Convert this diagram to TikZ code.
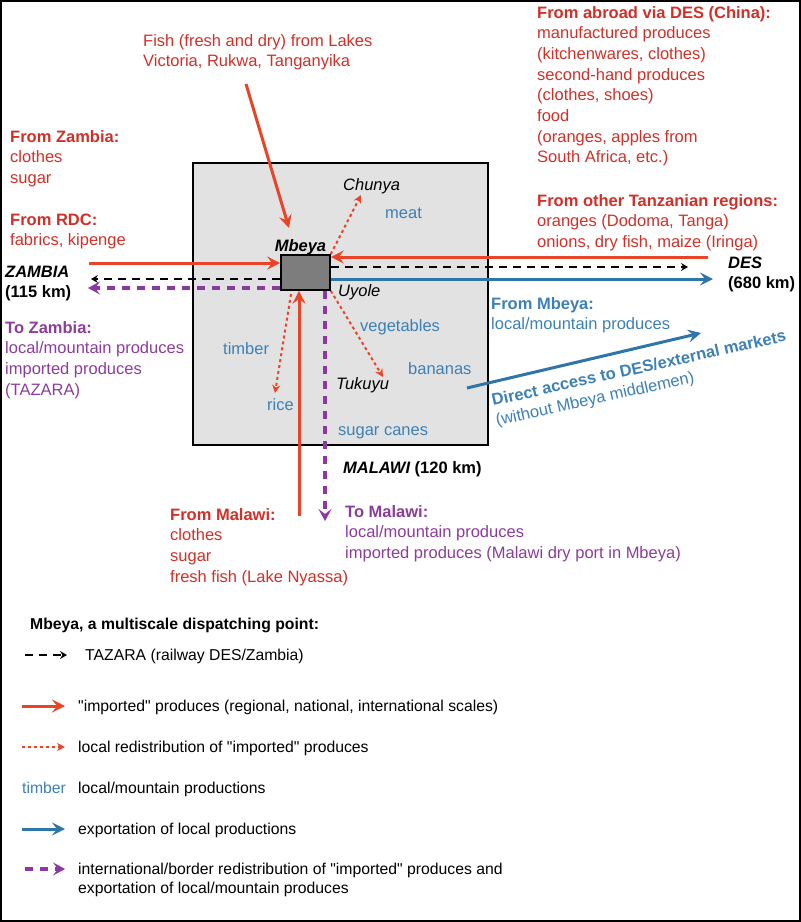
\documentclass[tikz,border=0pt]{standalone}
\usepackage{fontspec}
\setmainfont{Liberation Sans}[Ligatures=TeXOff]
\usetikzlibrary{arrows.meta}
\definecolor{impred}{RGB}{233,68,40}
\definecolor{redtxt}{RGB}{208,48,40}
\definecolor{expblue}{RGB}{46,117,170}
\definecolor{bluetxt}{RGB}{60,128,182}
\definecolor{brdpurple}{RGB}{140,55,165}
\definecolor{purtxt}{RGB}{140,60,155}
\definecolor{zonegray}{RGB}{226,226,226}
\definecolor{hubgray}{RGB}{125,125,125}
\newcommand{\mapfont}{\fontsize{16.5}{20.7}\selectfont}
\newcommand{\keyfont}{\fontsize{15.75}{19.5}\selectfont}

\begin{document}
\begin{tikzpicture}[x=1pt,y=-1pt,
   lab/.style={inner sep=0pt,anchor=base west,align=left,font=\mapfont},
   town/.style={lab,font=\mapfont\bfseries\itshape},
   spot/.style={lab,font=\mapfont\itshape},
   prod/.style={lab,text=bluetxt},
   inred/.style={lab,text=redtxt},
   outpur/.style={lab,text=purtxt},
   key/.style={lab,font=\keyfont},
   imp/.style={-{Stealth[length=13pt,width=13pt,inset=5pt]},line width=3pt,draw=impred},
   redis/.style={-{Stealth[length=8pt,width=8pt,inset=2.5pt]},line width=2pt,draw=impred,dash pattern=on 3pt off 3pt},
   rail/.style={-{Stealth[length=7pt,width=8pt,inset=2.5pt]},line width=2pt,dash pattern=on 8pt off 6pt},
   expo/.style={-{Stealth[length=13pt,width=13pt,inset=5pt]},line width=3pt,draw=expblue},
   brd/.style={-{Stealth[length=12pt,width=13pt,inset=5pt]},line width=3.5pt,draw=brdpurple,dash pattern=on 8pt off 7pt}]
\useasboundingbox (0,0) rectangle (801,922);
\draw[line width=2pt] (1,1) rectangle (800,921);

\node[draw,line width=2pt,fill=zonegray,minimum width=295pt,minimum height=282pt,inner sep=0pt] (zone) at (340.5,304) {};
\node[draw,line width=1.6pt,fill=hubgray,minimum width=49pt,minimum height=35pt,inner sep=0pt] (mb) at (305.5,272.5) {};

\coordinate (fishS) at (246,84);
\coordinate (fishE) at (289,228);
\coordinate (chunE) at (361,195);
\coordinate (tukE) at (383,377);
\coordinate (riceS) at (291,294);
\coordinate (riceE) at (275,393);
\coordinate (zamIn) at (89,263);
\coordinate (zamRail) at (91,279);
\coordinate (zamOut) at (88,288);
\coordinate (desIn) at (708,257);
\coordinate (desRail) at (688,267);
\coordinate (desOut) at (713,279);
\coordinate (malIn) at (299,516);
\coordinate (malOut) at (325,521);
\coordinate (dirS) at (467,388);
\coordinate (dirE) at (701,333);

\draw[imp] (fishS) -- (fishE);
\draw[imp] (zamIn) -- (zamIn -| mb.west);
\draw[imp] (desIn) -- (desIn -| mb.east);
\draw[imp] (malIn) -- (malIn |- mb.south);
\draw[rail] (mb.west |- zamRail) -- (zamRail);
\draw[rail] (mb.east |- desRail) -- (desRail);
\draw[expo] (mb.east |- desOut) -- (desOut);
\draw[expo] (dirS) -- (dirE);
\draw[brd] (mb.west |- zamOut) -- (zamOut);
\draw[brd] (malOut |- mb.south) -- (malOut);
\draw[redis] (mb.north east) -- (chunE);
\draw[redis] (mb.south east) -- (tukE);
\draw[redis] (riceS) -- (riceE);

\node[town,anchor=base] (mblab) at (300.5,251) {Mbeya};
\node[spot] (uyole) at (338,296) {Uyole};
\node[spot] (chunya) at (343,190) {Chunya};
\node[spot] (tukuyu) at (336,389) {Tukuyu};
\node[prod] (meat) at (385,218) {meat};
\node[prod] (veg) at (360,331) {vegetables};
\node[prod] (timber) at (223,354) {timber};
\node[prod] (banana) at (408,374) {bananas};
\node[prod] (rice) at (267,410) {rice};
\node[prod] (cane) at (338,435) {sugar canes};

\node[inred] (fish) at (143,66.7) {Fish (fresh and dry) from Lakes\\Victoria, Rukwa, Tanganyika};
\node[inred] (fromzam) at (10,183.4) {\textbf{From Zambia:}\\clothes\\sugar};
\node[inred] (fromrdc) at (10,245.7) {\textbf{From RDC:}\\fabrics, kipenge};
\node[inred] (abroad) at (537,162.9) {\textbf{From abroad via DES (China):}\\manufactured produces\\(kitchenwares, clothes)\\second-hand produces\\(clothes, shoes)\\food\\(oranges, apples from\\South Africa, etc.)};
\node[inred] (tzreg) at (537,247.4) {\textbf{From other Tanzanian regions:}\\oranges (Dodoma, Tanga)\\onions, dry fish, maize (Iringa)};
\node[inred] (frommal) at (170,582.1) {\textbf{From Malawi:}\\clothes\\sugar\\fresh fish (Lake Nyassa)};

\node[town] (zambia) at (5,297.7) {ZAMBIA\\{\upshape(115 km)}};
\node[town] (des) at (728,288.7) {DES\\{\upshape(680 km)}};
\node[town] (malawi) at (343,473) {MALAWI {\upshape(120 km)}};

\node[outpur] (tozam) at (5,395.1) {\textbf{To Zambia:}\\local/mountain produces\\imported produces\\(TAZARA)};
\node[outpur] (tomal) at (345,558.4) {\textbf{To Malawi:}\\local/mountain produces\\imported produces (Malawi dry port in Mbeya)};

\node[lab,text=bluetxt] (frommb) at (491,329.7) {\textbf{From Mbeya:}\\local/mountain produces};
\node[lab,text=bluetxt,rotate=12.5,font=\mapfont\bfseries] (direct) at (493,406) {Direct access to DES/external markets};
\node[lab,text=bluetxt,rotate=12.5] (nomid) at (497,426) {(without Mbeya middlemen)};

\node[key,font=\keyfont\bfseries] (keyhead) at (30,629) {Mbeya, a multiscale dispatching point:};
\node[key] (krail) at (85,660) {TAZARA (railway DES/Zambia)};
\node[key] (kimp) at (78,711) {"imported" produces (regional, national, international scales)};
\node[key] (kred) at (78,752) {local redistribution of "imported" produces};
\node[key,text=bluetxt] (ktimber) at (22,793) {timber};
\node[key] (kloc) at (78,793) {local/mountain productions};
\node[key] (kexp) at (78,834) {exportation of local productions};
\node[key] (kbrd) at (78,893.5) {international/border redistribution of "imported" produces and\\exportation of local/mountain produces};

\draw[rail] ([xshift=-60pt,yshift=5pt]krail.base west) -- ([xshift=-18pt,yshift=5pt]krail.base west);
\draw[imp] ([xshift=-56pt,yshift=5pt]kimp.base west) -- ([xshift=-13pt,yshift=5pt]kimp.base west);
\draw[redis] ([xshift=-56pt,yshift=5pt]kred.base west) -- ([xshift=-13pt,yshift=5pt]kred.base west);
\draw[expo] ([xshift=-56pt,yshift=5pt]kexp.base west) -- ([xshift=-13pt,yshift=5pt]kexp.base west);
\draw[brd] ([xshift=-53pt,yshift=24.5pt]kbrd.base west) -- ([xshift=-13pt,yshift=24.5pt]kbrd.base west);
\end{tikzpicture}
\end{document}
